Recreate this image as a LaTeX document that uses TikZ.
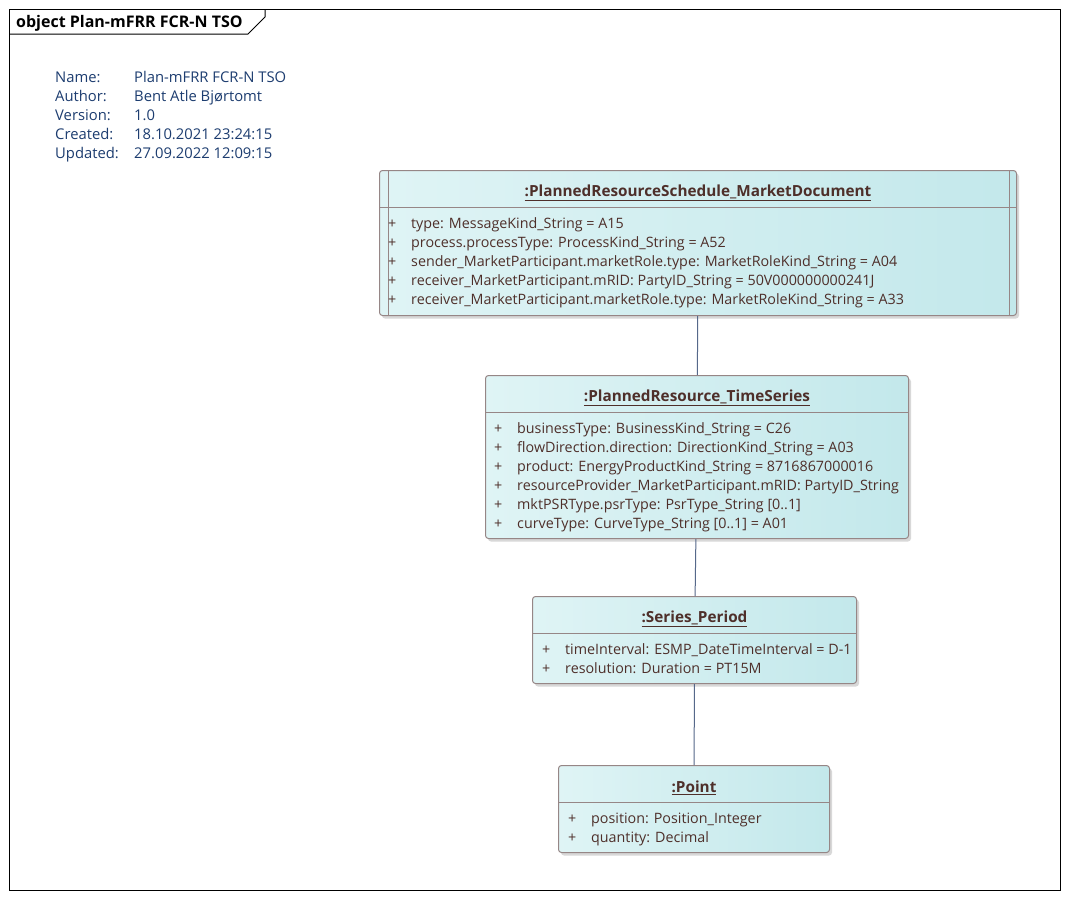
\documentclass[tikz,border=0pt]{standalone}
\usepackage{fontspec}
\setmainfont{Open Sans}
\usetikzlibrary{positioning, calc, shadows}
\definecolor{objleft}{HTML}{DFF4F5}
\definecolor{objright}{HTML}{C3E8EB}
\definecolor{objline}{HTML}{968686}
\definecolor{objtext}{HTML}{4E2F2A}
\definecolor{metatext}{HTML}{1D3D70}
\definecolor{linkline}{HTML}{56688A}
\tikzset{
    objbox/.style={draw=objline, line width=1pt, rounded corners=3pt, left color=objleft, right color=objright,
        anchor=north west, inner sep=0pt, drop shadow={shadow xshift=2.5pt, shadow yshift=-3pt, fill=black!30, opacity=.5}},
    objname/.style={font=\fontsize{15.3}{16}\selectfont\bfseries, text=objtext, inner sep=0pt},
    attrs/.style={font=\fontsize{14.3}{19}\selectfont, text=objtext, inner sep=0pt, anchor=north west},
    meta/.style={font=\fontsize{14.8}{19}\selectfont, text=metatext, inner sep=0pt, anchor=north west},
    rule/.style={draw=objline, line width=1pt},
    link/.style={draw=linkline, line width=1pt}
}
\newcommand{\attrlist}[1]{\begin{tabular}[t]{@{}p{23pt}@{}l@{}}#1\end{tabular}}

\begin{document}
\begin{tikzpicture}[x=1pt, y=-1pt]
  \useasboundingbox[fill=white] (0,0) rectangle (1068,898);
  % frame and tab
  \draw[line width=1pt] (9,9) rectangle (1060,890);
  \draw[line width=1pt] (265,9) -- (265,17) -- (248,34) -- (9,34);
  \node(frametitle)[anchor=base west, inner sep=0pt, font=\fontsize{16}{17}\selectfont\bfseries] at (16,27) {object Plan-mFRR FCR-N TSO};
  \node(info)[meta] at (55,69) {\begin{tabular}[t]{@{}p{79pt}@{}l@{}}
    Name: & Plan-mFRR FCR-N TSO\\
    Author: & Bent Atle Bjørtomt\\
    Version: & 1.0\\
    Created: & 18.10.2021 23:24:15\\
    Updated: & 27.09.2022 12:09:15
  \end{tabular}};

  % market document
  \node(doc)[objbox, minimum width=637pt, minimum height=145pt] at (379,170) {};
  \draw[rule] ($(doc.north west)+(9,0)$) -- ($(doc.south west)+(9,0)$);
  \draw[rule] ($(doc.north east)+(-8,0)$) -- ($(doc.south east)+(-8,0)$);
  \draw[rule] ($(doc.north west)+(0,37)$) -- ($(doc.north east)+(0,37)$);
  \node(docname)[objname] at ($(doc.north)+(0,22.5)$) {\underline{:PlannedResourceSchedule\_MarketDocument}};
  \node(docattr)[attrs] at ($(doc.north west)+(9,44.5)$) {\attrlist{
    + & type: MessageKind\_String = A15\\
    + & process.processType: ProcessKind\_String = A52\\
    + & sender\_MarketParticipant.marketRole.type: MarketRoleKind\_String = A04\\
    + & receiver\_MarketParticipant.mRID: PartyID\_String = 50V000000000241J\\
    + & receiver\_MarketParticipant.marketRole.type: MarketRoleKind\_String = A33}};

  % time series
  \node(ts)[objbox, minimum width=423pt, minimum height=163pt] at (485,375) {};
  \draw[rule] ($(ts.north west)+(0,37)$) -- ($(ts.north east)+(0,37)$);
  \node(tsname)[objname] at ($(ts.north)+(0,22.5)$) {\underline{:PlannedResource\_TimeSeries}};
  \node(tsattr)[attrs] at ($(ts.north west)+(9,44.5)$) {\attrlist{
    + & businessType: BusinessKind\_String = C26\\
    + & flowDirection.direction: DirectionKind\_String = A03\\
    + & product: EnergyProductKind\_String = 8716867000016\\
    + & resourceProvider\_MarketParticipant.mRID: PartyID\_String\\
    + & mktPSRType.psrType: PsrType\_String [0..1]\\
    + & curveType: CurveType\_String [0..1] = A01}};

  % period
  \node(period)[objbox, minimum width=324pt, minimum height=87pt] at (532,596) {};
  \draw[rule] ($(period.north west)+(0,37)$) -- ($(period.north east)+(0,37)$);
  \node(periodname)[objname] at ($(period.north)+(0,22.5)$) {\underline{:Series\_Period}};
  \node(periodattr)[attrs] at ($(period.north west)+(10,44.5)$) {\attrlist{
    + & timeInterval: ESMP\_DateTimeInterval = D-1\\
    + & resolution: Duration = PT15M}};

  % point
  \node(point)[objbox, minimum width=271pt, minimum height=87pt] at (558,765) {};
  \draw[rule] ($(point.north west)+(0,37)$) -- ($(point.north east)+(0,37)$);
  \node(pointname)[objname] at ($(point.north)+(0,22.5)$) {\underline{:Point}};
  \node(pointattr)[attrs] at ($(point.north west)+(10,44.5)$) {\attrlist{
    + & position: Position\_Integer\\
    + & quantity: Decimal}};

  \draw[link](doc)--(ts);
  \draw[link](ts)--(period);
  \draw[link](period)--(point);
\end{tikzpicture}
\end{document}
